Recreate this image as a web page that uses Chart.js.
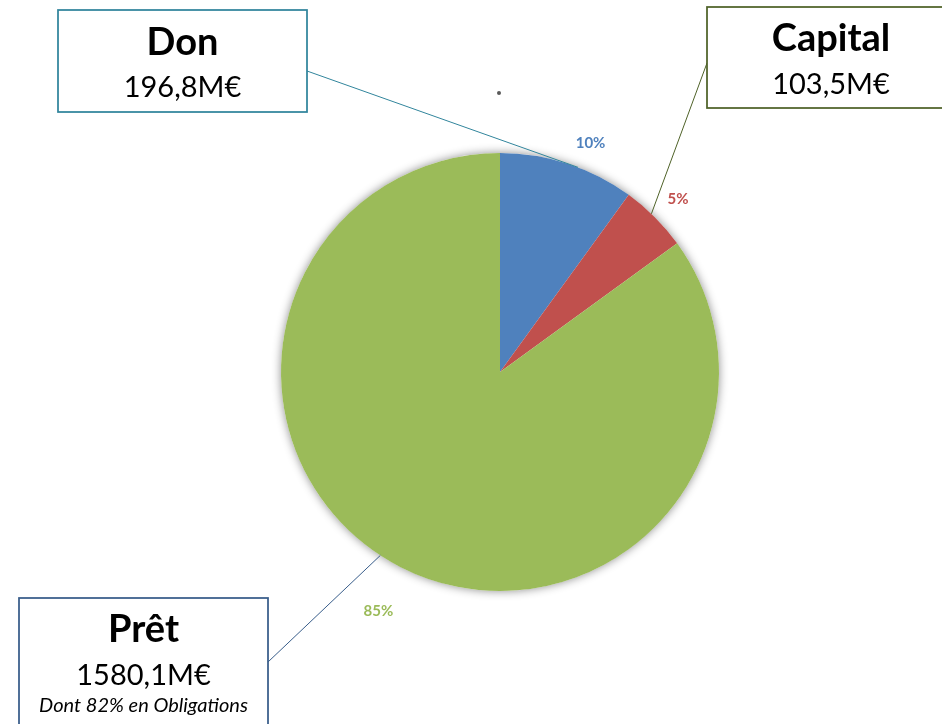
<!DOCTYPE html>
<html><head><meta charset="utf-8">
<script src="https://cdn.jsdelivr.net/npm/chart.js@4"></script>
<style>html,body{margin:0;padding:0;background:#fff;overflow:hidden}</style>
</head><body>
<canvas id="c" width="942" height="724"></canvas>
<script>
// ---- data ----
const categories = ['Don', 'Capital', 'Prêt'];
const shares = [10, 5, 85];
const percentLabels = ['10%', '5%', '85%'];
const amountLabels = ['196,8M€', '103,5M€', '1580,1M€'];
const noteLabels = ['', '', 'Dont 82% en Obligations'];

// ---- styles / layout ----
const sliceColors = ['#4F81BD', '#C0504D', '#9BBB59'];
const boxColors = ['#31859C', '#4F6228', '#385D8A'];
const FONT = 'Lato, "Open Sans", sans-serif';
const boxes = [
  { x: 58, y: 10, w: 249, h: 102, ax: 307, ay: 71, titleY: 43, valueY: 88 },
  { x: 707, y: 7, w: 260, h: 101, ax: 707, ay: 63, titleY: 39, valueY: 85, cx: 831 },
  { x: 19, y: 598, w: 249, h: 150, ax: 268, ay: 662, titleY: 630, valueY: 676, noteY: 706 }
];
const labelFrac = [0.6, 0.55, 0.5];
const labelDist = [27, 29, 49];
const anchorFrac = [0.58, 0.43, 0.52];

const shadowPlugin = {
  id: 'pieShadow',
  beforeDatasetsDraw(chart) {
    const a = chart.getDatasetMeta(0).data[0];
    const ctx = chart.ctx;
    ctx.save();
    ctx.shadowColor = 'rgba(0,0,0,0.45)';
    ctx.shadowBlur = 10;
    ctx.fillStyle = '#fff';
    ctx.beginPath();
    ctx.arc(a.x, a.y, a.outerRadius, 0, Math.PI * 2);
    ctx.fill();
    ctx.restore();
  }
};

function pointAt(arc, frac, r) {
  const ang = arc.startAngle + (arc.endAngle - arc.startAngle) * frac;
  return { x: arc.x + Math.cos(ang) * r, y: arc.y + Math.sin(ang) * r };
}

const annotPlugin = {
  id: 'annot',
  afterDraw(chart) {
    const ctx = chart.ctx;
    const arcs = chart.getDatasetMeta(0).data;
    ctx.save();
    // percent labels
    arcs.forEach((arc, i) => {
      const p = pointAt(arc, labelFrac[i], arc.outerRadius + labelDist[i]);
      ctx.font = 'bold 15px ' + FONT;
      ctx.fillStyle = sliceColors[i];
      ctx.textAlign = 'center';
      ctx.textBaseline = 'middle';
      ctx.fillText(percentLabels[i], p.x, p.y);
    });
    // connectors
    arcs.forEach((arc, i) => {
      const b = boxes[i];
      const p = pointAt(arc, anchorFrac[i], arc.outerRadius);
      ctx.strokeStyle = boxColors[i];
      ctx.lineWidth = 1;
      ctx.beginPath();
      ctx.moveTo(b.ax, b.ay);
      ctx.lineTo(p.x, p.y);
      ctx.stroke();
    });
    // boxes
    boxes.forEach((b, i) => {
      ctx.fillStyle = '#fff';
      ctx.fillRect(b.x, b.y, b.w, b.h);
      ctx.strokeStyle = boxColors[i];
      ctx.lineWidth = 1.75;
      ctx.strokeRect(b.x, b.y, b.w, b.h);
      const cx = b.cx !== undefined ? b.cx : b.x + b.w / 2;
      ctx.fillStyle = '#000';
      ctx.textAlign = 'center';
      ctx.textBaseline = 'middle';
      ctx.font = 'bold 38px ' + FONT;
      ctx.fillText(categories[i], cx, b.titleY);
      ctx.font = '29px ' + FONT;
      ctx.fillText(amountLabels[i], cx, b.valueY);
      if (noteLabels[i]) {
        ctx.font = 'italic 20px ' + FONT;
        ctx.fillText(noteLabels[i], cx, b.noteY);
      }
    });
    // small stray dot
    ctx.fillStyle = '#595959';
    ctx.beginPath();
    ctx.arc(499, 93, 2, 0, Math.PI * 2);
    ctx.fill();
    ctx.restore();
  }
};

new Chart(document.getElementById('c'), {
  type: 'pie',
  data: {
    labels: categories,
    datasets: [{
      data: shares,
      backgroundColor: sliceColors,
      borderWidth: 0
    }]
  },
  options: {
    responsive: false,
    animation: false,
    layout: { padding: { top: 153, bottom: 133, left: 281, right: 223 } },
    plugins: { legend: { display: false }, tooltip: { enabled: false } }
  },
  plugins: [shadowPlugin, annotPlugin]
});
</script>
</body></html>
